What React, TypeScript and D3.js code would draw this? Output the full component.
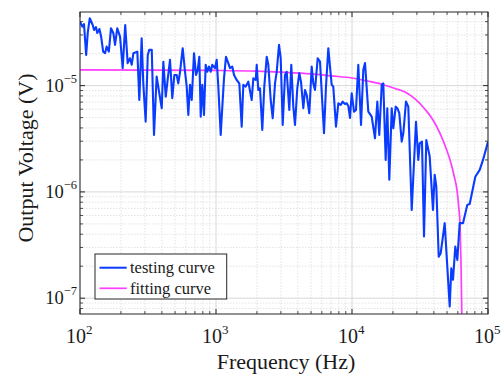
import React from "react";
import * as d3 from "d3";

const testingFreq = [
  100,104,107,111,114,118,124,127,131,134,
  139,143,148,153,157,163,169,176,181,188,
  197,206,215,224,233,240,247,264,273,284,
  292,304,315,323,337,350,366,383,399,410,
  427,441,459,477,494,514,528,544,569,592,
  609,626,644,663,689,713,734,754,772,793,
  816,840,863,888,914,939,983,1012,1040,1083,
  1113,1145,1184,1231,1267,1318,1357,1420,1484,1545,
  1588,1654,1728,1830,1881,1959,1993,2046,2106,2190,
  2265,2360,2425,2525,2612,2716,2795,2906,2991,3094,
  3217,3311,3459,3578,3702,3809,3961,4098,4217,4385,
  4513,4645,4853,5054,5193,5345,5595,5818,5987,6225,
  6439,6694,6889,7090,7285,7625,7933,8260,8543,8882,
  9142,9393,9668,9950,10345,10700,11125,11650,12110,12465,
  13180,13960,14760,15350,15870,16540,16990,17690,18180,18810,
  19590,20120,20960,21540,22270,23200,23840,24950,25940,27480,
  29550,30720,31470,32710,33840,35180,37260,39400,40560,41680,
  43400,44900,48040,50200,52300,53720,55290,57490,59470,61940,
  65500,70430,73340,80660,86900,91880,100000,
];

// microvolts
const testingMicroVolts = [
  40.0,35.9,38.0,19.4,31.3,43.1,37.2,33.4,35.6,31.3,
  34.1,28.9,20.9,20.2,23.3,20.9,34.7,31.1,24.2,34.7,
  28.9,14.6,37.2,16.3,18.1,15.7,20.2,20.9,7.33,27.9,
  10.5,4.58,19.4,21.7,21.7,3.44,12.2,8.48,6.13,16.8,
  7.88,11.3,17.5,7.61,12.6,12.6,10.5,13.5,22.5,13.5,
  9.8,5.30,10.2,7.33,20.2,12.6,14.1,18.7,5.11,10.2,
  5.30,15.7,13.5,15.1,13.5,15.7,14.6,17.5,9.8,3.44,
  6.34,11.7,18.7,16.3,14.6,15.1,12.6,11.3,10.5,4.11,
  10.2,9.8,10.9,7.33,11.7,11.3,15.7,9.11,9.45,3.83,
  9.8,18.7,15.7,7.33,4.93,10.5,13.5,24.2,18.1,4.27,
  12.6,13.5,5.91,15.7,6.34,4.27,9.45,13.1,10.9,6.13,
  9.11,8.17,5.50,15.1,10.5,9.11,18.1,16.8,8.78,3.56,
  9.8,22.5,15.1,10.2,9.8,4.11,6.83,6.58,7.07,6.73,
  6.83,6.44,4.97,8.48,5.69,5.91,15.7,4.27,14.1,16.3,
  5.69,5.11,3.20,7.07,3.44,10.2,10.5,2.00,6.13,1.30,
  6.13,3.97,6.34,6.13,5.50,2.97,3.56,7.07,6.34,0.677,
  4.58,2.00,2.87,2.97,0.380,3.08,2.15,0.677,1.45,1.12,
  0.246,0.265,0.508,0.198,0.0834,0.191,0.149,0.306,0.229,0.508,
  0.508,0.755,0.771,1.39,1.61,2.00,2.97,
];

const fitFreq = [100, 1000, 2000, 3000, 5000, 7000, 10000, 13000, 16990, 20720, 24530, 29060, 34420, 39610, 44370, 49700, 53460, 56520, 59170, 61210, 62250, 63310, 63950, 64390];
const fitMicroVolts = [14.1, 13.9, 13.7, 13.4, 12.9, 12.35, 11.8, 11.05, 10.2, 9.4, 8.7, 7.5, 6.0, 4.7, 3.56, 2.48, 1.86, 1.39, 1.04, 0.677, 0.508, 0.215, 0.0964, 0.0504];

const xTickExps = [2, 3, 4, 5];
const yTickExps = [-7, -6, -5];
const legendLabels = ["testing curve", "fitting curve"];

const W = 502, H = 376;
const L = 80, R = 488, T = 12, B = 314;
const FONT = "'Liberation Serif', 'Times New Roman', serif";
const BLUE = "#0a3cff";
const MAGENTA = "#ff3cff";

export default function App() {
  const x = d3.scaleLog().domain([1e2, 1e5]).range([L, R]);
  const y = d3.scaleLog().domain([7.1e-8, 4.93e-5]).range([B, T]);
  const uV = 1e-6;

  const xMinor: number[] = [];
  for (let e = 2; e < 5; e++) for (let m = 2; m <= 9; m++) xMinor.push(m * Math.pow(10, e));
  const yMinor: number[] = [];
  for (let e = -8; e < -4; e++) for (let m = 2; m <= 9; m++) {
    const v = m * Math.pow(10, e);
    if (v >= 7.1e-8 && v <= 4.93e-5) yMinor.push(v);
  }
  const xMajor = xTickExps.map((e) => Math.pow(10, e));
  const yMajor = yTickExps.map((e) => Math.pow(10, e));

  const testPts = testingFreq.map((f, i) => [x(f), y(testingMicroVolts[i] * uV)] as [number, number]);
  const fitPts = fitFreq.map((f, i) => [x(f), y(fitMicroVolts[i] * uV)] as [number, number]);
  const lineStraight = d3.line();
  const lineSmooth = d3.line().curve(d3.curveMonotoneX);

  const axisColor = "#262626";

  return (
    <svg width={W} height={H} style={{ position: "absolute", left: 0, top: 0, background: "#fff" }} fontFamily={FONT}>
      <defs>
        <clipPath id="plotClip">
          <rect x={L} y={T} width={R - L} height={B - T} />
        </clipPath>
      </defs>
      <rect x={0} y={0} width={W} height={H} fill="#fff" />
      {/* minor grid */}
      {xMinor.map((v, i) => (
        <line key={"xm" + i} x1={x(v)} x2={x(v)} y1={T} y2={B} stroke="#dcdcdc" strokeWidth={0.8} strokeDasharray="1.5,1.5" />
      ))}
      {yMinor.map((v, i) => (
        <line key={"ym" + i} x1={L} x2={R} y1={y(v)} y2={y(v)} stroke="#dcdcdc" strokeWidth={0.8} strokeDasharray="1.5,1.5" />
      ))}
      {/* major grid */}
      {xMajor.map((v, i) => (
        <line key={"xM" + i} x1={x(v)} x2={x(v)} y1={T} y2={B} stroke="#d8d8d8" strokeWidth={1} />
      ))}
      {yMajor.map((v, i) => (
        <line key={"yM" + i} x1={L} x2={R} y1={y(v)} y2={y(v)} stroke="#d8d8d8" strokeWidth={1} />
      ))}

      {/* data */}
      <g clipPath="url(#plotClip)">
        <path d={lineSmooth(fitPts) || ""} fill="none" stroke={MAGENTA} strokeWidth={1.7} />
        <path d={lineStraight(testPts) || ""} fill="none" stroke={BLUE} strokeWidth={2.1} strokeLinejoin="round" />
      </g>

      {/* axes box */}
      <rect x={L} y={T} width={R - L} height={B - T} fill="none" stroke={axisColor} strokeWidth={1} />
      {/* ticks */}
      {xMinor.map((v, i) => (
        <g key={"xt" + i} stroke={axisColor} strokeWidth={0.8}>
          <line x1={x(v)} x2={x(v)} y1={B} y2={B - 3} />
          <line x1={x(v)} x2={x(v)} y1={T} y2={T + 3} />
        </g>
      ))}
      {xMajor.map((v, i) => (
        <g key={"xT" + i} stroke={axisColor} strokeWidth={1}>
          <line x1={x(v)} x2={x(v)} y1={B} y2={B - 5} />
          <line x1={x(v)} x2={x(v)} y1={T} y2={T + 5} />
        </g>
      ))}
      {yMinor.map((v, i) => (
        <g key={"yt" + i} stroke={axisColor} strokeWidth={0.8}>
          <line x1={L} x2={L + 3} y1={y(v)} y2={y(v)} />
          <line x1={R} x2={R - 3} y1={y(v)} y2={y(v)} />
        </g>
      ))}
      {yMajor.map((v, i) => (
        <g key={"yT" + i} stroke={axisColor} strokeWidth={1}>
          <line x1={L} x2={L + 5} y1={y(v)} y2={y(v)} />
          <line x1={R} x2={R - 5} y1={y(v)} y2={y(v)} />
        </g>
      ))}

      {/* x tick labels */}
      {xTickExps.map((e, i) => (
        <text key={"xl" + i} x={x(Math.pow(10, e)) - 14} y={343} fontSize={20} fill="#1a1a1a">
          <tspan>10</tspan>
          <tspan fontSize={13} dy={-9}>{String(e)}</tspan>
        </text>
      ))}
      {/* y tick labels */}
      {yTickExps.map((e, i) => (
        <text key={"yl" + i} x={77} y={y(Math.pow(10, e)) + 6} fontSize={18.5} fill="#1a1a1a" textAnchor="end">
          <tspan>10</tspan>
          <tspan fontSize={12.5} dy={-9}>{"\u2212" + String(-e)}</tspan>
        </text>
      ))}

      {/* axis titles */}
      <text x={286} y={369} fontSize={22} textAnchor="middle" fill="#1a1a1a">Frequency (Hz)</text>
      <text transform="translate(33,158) rotate(-90)" fontSize={22} textAnchor="middle" fill="#1a1a1a">Output Voltage (V)</text>

      {/* legend */}
      <g>
        <rect x={95} y={254} width={131.7} height={45} fill="#fff" stroke={axisColor} strokeWidth={1} />
        {legendLabels.map((lab, i) => {
          const cy = 267.7 + i * 20.6;
          return (
            <g key={"lg" + i}>
              <line x1={99.5} x2={126.7} y1={cy} y2={cy} stroke={i === 0 ? BLUE : MAGENTA} strokeWidth={i === 0 ? 2 : 1.7} />
              <text x={130} y={cy + 5.5} fontSize={16.5} fill="#1a1a1a">{lab}</text>
            </g>
          );
        })}
      </g>
    </svg>
  );
}
